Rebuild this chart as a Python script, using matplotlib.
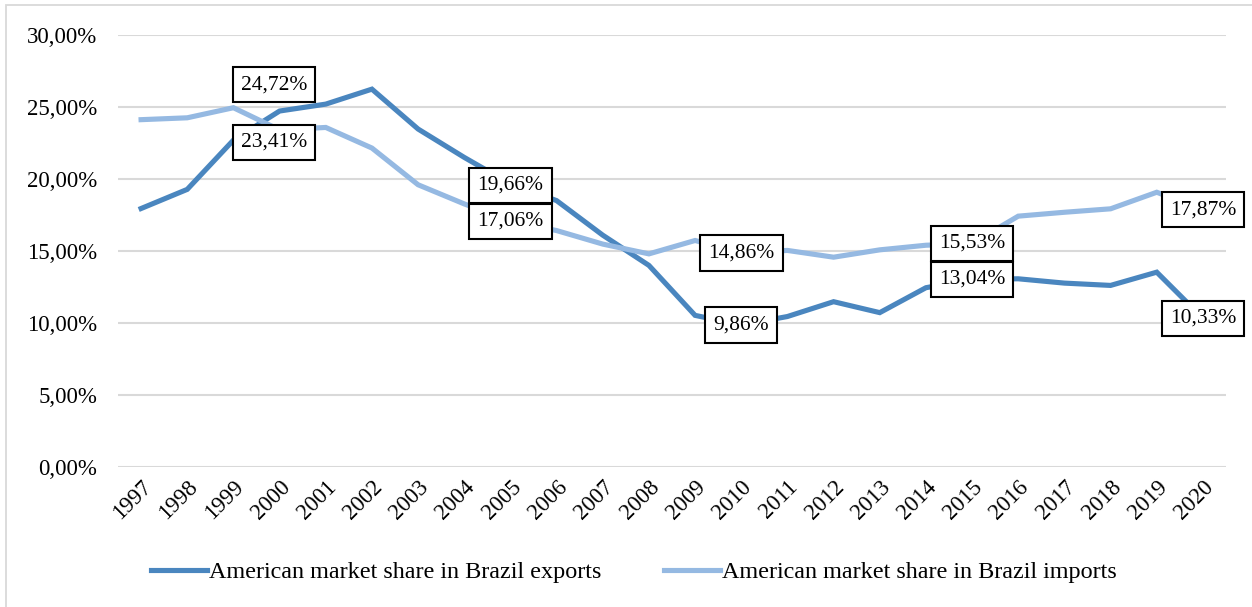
import matplotlib
matplotlib.use("Agg")
import matplotlib.pyplot as plt
from matplotlib.patches import Rectangle
from matplotlib.ticker import FuncFormatter, MultipleLocator

years = list(range(1997, 2021))
exports_share = [17.95, 19.28, 22.70, 24.72, 25.20, 26.24, 23.47, 21.50, 19.66, 18.50,
                 16.10, 14.00, 10.53, 9.86, 10.45, 11.48, 10.72, 12.45, 13.04, 13.07,
                 12.77, 12.61, 13.53, 10.33]
imports_share = [24.12, 24.25, 24.95, 23.41, 23.58, 22.15, 19.60, 18.27, 17.06, 16.42,
                 15.48, 14.80, 15.73, 14.86, 15.04, 14.57, 15.08, 15.40, 15.53, 17.42,
                 17.69, 17.93, 19.08, 17.87]
series_names = ["American market share in Brazil exports",
                "American market share in Brazil imports"]

# labelled points: (series, year, offset in points)
labels = [
    ("exp", 2000, (-4, 19)), ("imp", 2000, (-4, -9)),
    ("exp", 2005, (0, -1)), ("imp", 2005, (0, 0)),
    ("imp", 2010, (0, 0)), ("exp", 2010, (0, 0)),
    ("imp", 2015, (0, 0)), ("exp", 2015, (0, 0)),
    ("imp", 2020, (0, 0)), ("exp", 2020, (0, 0)),
]

plt.rcParams["font.family"] = ["Liberation Serif", "DejaVu Serif"]

c_exp = "#4A86BF"
c_imp = "#95B9E2"
grid_c = "#D9D9D9"

fig = plt.figure(figsize=(12.52, 6.07), dpi=100)
ax = fig.add_axes([118 / 1252, 1 - 467 / 607, (1226 - 118) / 1252, (467 - 35) / 607])

# chart-area border
fig.patches.append(Rectangle((6 / 1252, -0.01), 1.02, 1 - 5 / 607 + 0.01,
                             transform=fig.transFigure, fill=False,
                             edgecolor=grid_c, linewidth=1.3))

x = list(range(len(years)))
ax.plot(x, exports_share, color=c_exp, lw=3.7, solid_joinstyle="miter", zorder=3,
        label=series_names[0])
ax.plot(x, imports_share, color=c_imp, lw=3.7, solid_joinstyle="miter", zorder=3,
        label=series_names[1])

ax.set_xlim(-0.5, len(years) - 0.5)
ax.set_ylim(0, 30)
ax.yaxis.set_major_locator(MultipleLocator(5))
ax.yaxis.set_major_formatter(FuncFormatter(lambda v, p: f"{v:.2f}".replace(".", ",") + "%"))
ax.set_xticks(x)
ax.set_xticklabels([str(y) for y in years], rotation=45, ha="right", va="top",
                   rotation_mode="anchor")
ax.tick_params(axis="both", length=0, labelsize=16.5)
ax.tick_params(axis="y", pad=15)
ax.tick_params(axis="x", pad=7)
ax.grid(axis="y", color=grid_c, linewidth=1.5, zorder=0)
ax.set_axisbelow(True)
for s in ax.spines.values():
    s.set_visible(False)

data = {"exp": exports_share, "imp": imports_share}
for key, yr, off in labels:
    i = years.index(yr)
    v = data[key][i]
    ax.annotate(f"{v:.2f}".replace(".", ",") + "%", xy=(i, v), xytext=off,
                textcoords="offset points", ha="center", va="center",
                fontsize=15.5, zorder=5,
                bbox=dict(boxstyle="square,pad=0.38", facecolor="white",
                          edgecolor="black", linewidth=1.5))

leg = fig.legend(loc="center", bbox_to_anchor=(634 / 1252, 1 - 572 / 607), ncol=2,
                 frameon=False, fontsize=17.4, handlelength=2.3, handletextpad=0.1,
                 columnspacing=2.6)

fig.savefig("out.png", dpi=100)
